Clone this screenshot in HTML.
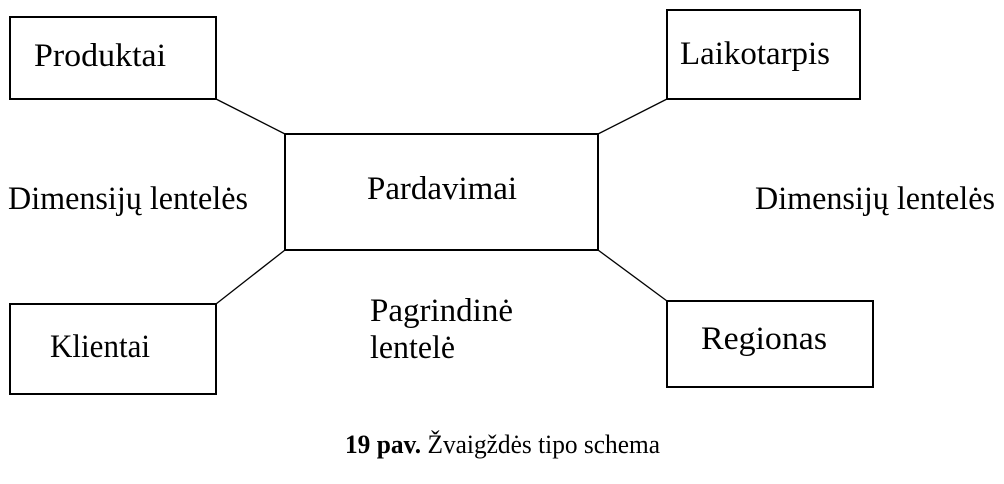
<!DOCTYPE html>
<html><head><meta charset="utf-8"><style>
html,body{margin:0;padding:0;background:#fff;}
svg{display:block;}
text{font-family:"Liberation Serif","DejaVu Serif",serif;fill:#000;}
</style></head><body>
<svg width="1004" height="484" viewBox="0 0 1004 484">
<g fill="none" stroke="#000" stroke-width="2">
<rect x="10" y="17" width="206" height="82"/>
<rect x="667" y="10" width="193" height="89"/>
<rect x="285" y="134" width="313" height="116"/>
<rect x="10" y="304" width="206" height="90"/>
<rect x="667" y="301" width="206" height="86"/>
<line x1="216" y1="99" x2="285" y2="134" stroke-width="1.3"/>
<line x1="598" y1="134" x2="667" y2="99" stroke-width="1.3"/>
<line x1="285" y1="250" x2="216" y2="304" stroke-width="1.3"/>
<line x1="598" y1="250" x2="667" y2="301" stroke-width="1.3"/>
</g>
<g font-size="33" font-family="Liberation Serif, serif">
<text x="34" y="66" textLength="132" lengthAdjust="spacingAndGlyphs">Produktai</text>
<text x="680" y="64" textLength="150" lengthAdjust="spacingAndGlyphs">Laikotarpis</text>
<text x="367" y="199" textLength="150" lengthAdjust="spacingAndGlyphs">Pardavimai</text>
<text x="8" y="209" textLength="240" lengthAdjust="spacingAndGlyphs">Dimensijų lentelės</text>
<text x="755" y="209" textLength="240" lengthAdjust="spacingAndGlyphs">Dimensijų lentelės</text>
<text x="370" y="321" textLength="143" lengthAdjust="spacingAndGlyphs">Pagrindinė</text>
<text x="370" y="358" textLength="85" lengthAdjust="spacingAndGlyphs">lentelė</text>
<text x="50" y="357" textLength="100" lengthAdjust="spacingAndGlyphs">Klientai</text>
<text x="701" y="349" textLength="126" lengthAdjust="spacingAndGlyphs">Regionas</text>
</g>
<text x="345" y="453" font-size="26" textLength="315" lengthAdjust="spacingAndGlyphs"><tspan font-weight="bold">19 pav.</tspan> Žvaigždės tipo schema</text>
</svg>
</body></html>
